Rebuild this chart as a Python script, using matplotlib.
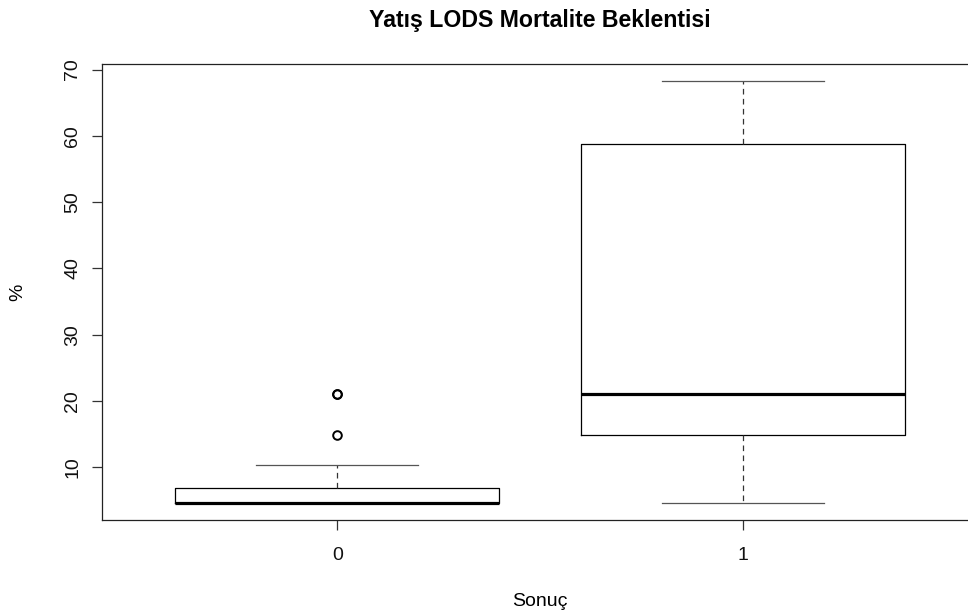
import matplotlib

matplotlib.use('Agg')
import matplotlib.pyplot as plt

plt.rcParams['font.family'] = ['Liberation Sans', 'DejaVu Sans']

# Box statistics per outcome group
groups = ['0', '1']
whislo = [4.6, 4.6]
q1 = [4.6, 14.9]
med = [4.6, 21.0]
q3 = [6.9, 58.8]
whishi = [10.3, 68.3]
fliers = [[14.9, 21.0, 21.1], []]
y_ticks = [10, 20, 30, 40, 50, 60, 70]

stats = []
for i, g in enumerate(groups):
    stats.append({'label': g, 'whislo': whislo[i], 'q1': q1[i], 'med': med[i],
                  'q3': q3[i], 'whishi': whishi[i], 'fliers': fliers[i]})

W, H = 968, 613
fig = plt.figure(figsize=(W / 100, H / 100), dpi=100)
# R style plot region; the right edge falls just outside the image
left, right, top, bottom = 102.2, 977.8, 64, 520
ax = fig.add_axes([left / W, (H - bottom) / H, (right - left) / W, (bottom - top) / H])

positions = [1, 2]
ax.bxp(stats, positions=positions, widths=0.8, capwidths=0.4,
       patch_artist=False, showfliers=True,
       boxprops=dict(color='black', linewidth=0.9),
       medianprops=dict(color='black', linewidth=2.3, solid_capstyle='butt'),
       whiskerprops=dict(color='#333333', linewidth=0.9, linestyle=(0, (4.5, 3.5))),
       capprops=dict(color='#555555', linewidth=0.9),
       flierprops=dict(marker='o', markersize=6.2, markerfacecolor='none',
                       markeredgecolor='black', markeredgewidth=1.4, linestyle='none'))

# R axis extension: 4% beyond the data range
all_vals = whislo + whishi + [v for f in fliers for v in f]
lo, hi = min(all_vals), max(all_vals)
ext = 0.04 * (hi - lo)
ax.set_ylim(lo - ext, hi + ext)
ax.set_xlim(0.5 - 0.08, 2.5 + 0.08)

ax.set_xticks(positions)
ax.set_xticklabels(groups)
ax.set_yticks(y_ticks)
ax.set_yticklabels([str(t) for t in y_ticks], rotation=90, va='center')

ax.tick_params(axis='both', direction='out', length=7.2, width=0.9,
               color='#333333', labelsize=14, labelcolor='#111111')
ax.tick_params(axis='x', pad=12)
ax.tick_params(axis='y', pad=8)
for sp in ax.spines.values():
    sp.set_linewidth(0.9)
    sp.set_color('#222222')

fig.text(540 / W, 1 - 27 / H, 'Yatış LODS Mortalite Beklentisi',
         ha='center', va='baseline', fontsize=16.7, fontweight='bold')
fig.text(540 / W, 1 - 606 / H, 'Sonuç', ha='center', va='baseline', fontsize=14)
fig.text(18 / W, 1 - 292 / H, '%', ha='center', va='center', rotation=90, fontsize=14)

fig.savefig('out.png', dpi=100)
